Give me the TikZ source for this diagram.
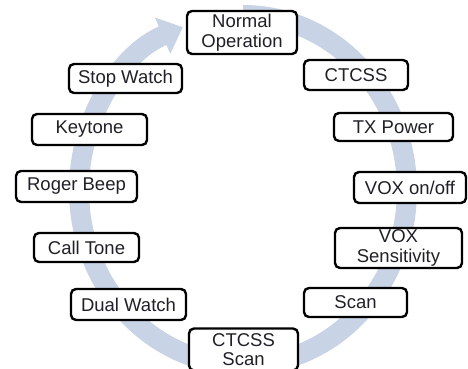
\documentclass[tikz,border=0pt]{standalone}
\usepackage{fontspec}
\setmainfont{Liberation Sans}
\usetikzlibrary{arrows.meta}
\definecolor{ringblue}{HTML}{C8D3E6}
\definecolor{txt}{HTML}{202028}
\begin{document}
\begin{tikzpicture}[
  x=1pt, y=1pt,
  m/.style={draw, line width=2.4pt, rounded corners=5pt, fill=white,
    text=txt, inner sep=0pt, align=center,
    font=\fontsize{18.5}{19.5}\selectfont},
  ring/.style={ringblue, line width=20pt}
]
\useasboundingbox (0,0) rectangle (468,369);
\clip (0,0) rectangle (468,369);

% big ring behind the menu items
\draw[ring, -{Triangle[width=38pt,length=22pt]}]
  (243,354) arc[start angle=90, end angle=-248.5, x radius=164, y radius=175];

% menu items, clockwise from the top
\node[m, minimum width=110pt, minimum height=43pt] (n)  at (242,336.5) {Normal\\Operation};
\node[m, minimum width=104pt, minimum height=30pt] (c)  at (356,294)   {CTCSS};
\node[m, minimum width=119pt, minimum height=28pt] (tx) at (393.5,242) {TX Power};
\node[m, minimum width=112pt, minimum height=31pt] (vo) at (410,181.5) {VOX on/off};
\node[m, minimum width=127pt, minimum height=40pt] (vs) at (398.5,121) {VOX\\Sensitivity};
\node[m, minimum width=103pt, minimum height=29pt] (s)  at (355.5,66.5) {Scan};
\node[m, minimum width=109pt, minimum height=42pt] (cs) at (243.5,19.5) {CTCSS\\Scan};
\node[m, minimum width=115pt, minimum height=31pt] (dw) at (128.5,64.5) {Dual Watch};
\node[m, minimum width=105pt, minimum height=29pt] (ct) at (86.5,121.5) {Call Tone};
\node[m, minimum width=121pt, minimum height=31pt] (rb) at (76.5,182.5) {Roger Beep};
\node[m, minimum width=115pt, minimum height=31pt] (k)  at (89.5,239.5) {Keytone};
\node[m, minimum width=113pt, minimum height=29pt] (sw) at (125.5,290.5) {Stop Watch};

\end{tikzpicture}
\end{document}
